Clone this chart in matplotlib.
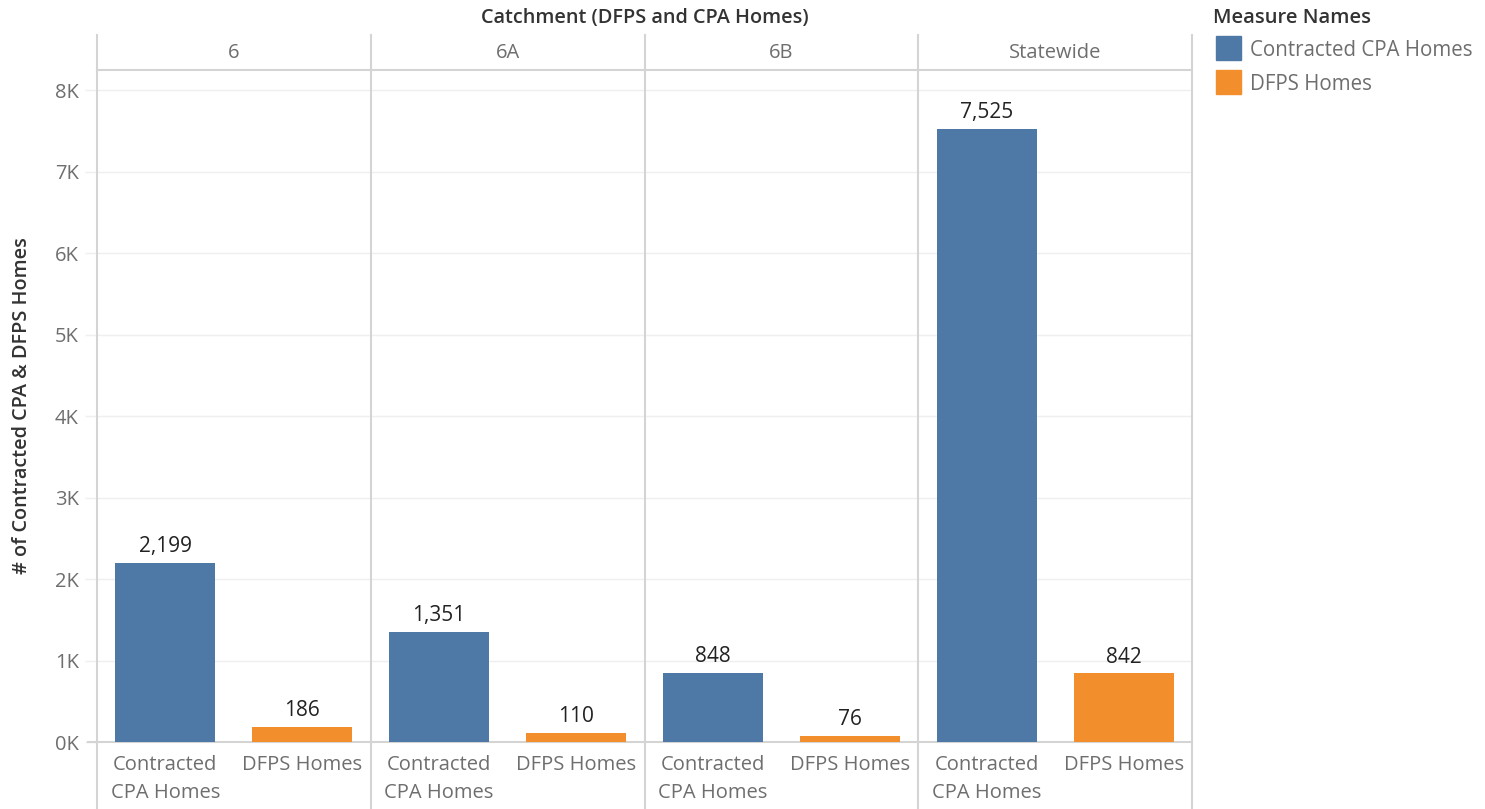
import matplotlib
matplotlib.use("Agg")
import matplotlib.pyplot as plt
from matplotlib.lines import Line2D
from matplotlib.patches import Rectangle

catchments = ["6", "6A", "6B", "Statewide"]
measures = ["Contracted CPA Homes", "DFPS Homes"]
measure_ticks = ["Contracted\nCPA Homes", "DFPS Homes"]
cpa_values = [2199, 1351, 848, 7525]
dfps_values = [186, 110, 76, 842]
y_ticks = [0, 1000, 2000, 3000, 4000, 5000, 6000, 7000, 8000]
y_tick_labels = ["0K", "1K", "2K", "3K", "4K", "5K", "6K", "7K", "8K"]

BLUE = "#4e79a7"
ORANGE = "#f28e2b"
BORDER = "#d4d4d4"
GRID = "#efefef"
TXT = "#6e6e6e"
DARK = "#333333"
VAL = "#222222"

plt.rcParams['font.family'] = ['Open Sans', 'DejaVu Sans']

W, H = 1485, 809
fig = plt.figure(figsize=(W / 100, H / 100), dpi=100)

L, R, T, B = 97, 1192, 70, 742
ax = fig.add_axes([L / W, 1 - B / H, (R - L) / W, (B - T) / H])

n = len(catchments)
xs_cpa = [2 * i for i in range(n)]
xs_dfps = [2 * i + 1 for i in range(n)]
bw = 0.73
ax.bar(xs_cpa, cpa_values, width=bw, color=BLUE, zorder=3)
ax.bar(xs_dfps, dfps_values, width=bw, color=ORANGE, zorder=3)

for x, v in list(zip(xs_cpa, cpa_values)) + list(zip(xs_dfps, dfps_values)):
    ax.annotate(f"{v:,}", (x, v), xytext=(0, 4), textcoords="offset points",
                ha="center", va="bottom", fontsize=15, color=VAL)

ax.set_xlim(-0.5, 2 * n - 0.5)
ax.set_ylim(0, 8250)
ax.set_yticks(y_ticks)
ax.set_yticklabels(y_tick_labels)
ax.set_xticks(xs_cpa + xs_dfps)
ax.set_xticklabels([measure_ticks[0]] * n + [measure_ticks[1]] * n)
for lab in ax.get_xticklabels():
    lab.set_va("top")
    lab.set_linespacing(1.55)
    lab.set_horizontalalignment("center")
ax.tick_params(axis="x", length=0, pad=9, labelsize=14.5, colors=TXT)
ax.tick_params(axis="y", length=9, width=1, color=GRID, pad=4, labelsize=14.5, colors=TXT)

ax.grid(axis="y", color=GRID, linewidth=1, zorder=0)
for s in ["left", "right"]:
    ax.spines[s].set_visible(False)
ax.spines["top"].set_color(BORDER)
ax.spines["bottom"].set_color(BORDER)
ax.spines["top"].set_linewidth(1.5)
ax.spines["bottom"].set_linewidth(1.5)

# panel separators extending from header to bottom
for i in range(n + 1):
    xpix = L + (R - L) * i / n
    fig.add_artist(Line2D([xpix / W, xpix / W], [1 - 35 / H, 0], color=BORDER, lw=1.5))
# bottom axis line extension to the left
fig.add_artist(Line2D([88 / W, L / W], [1 - B / H, 1 - B / H], color=BORDER, lw=1.5))

# header labels
for i, c in enumerate(catchments):
    xc = L + (R - L) * (i + 0.5) / n
    fig.text(xc / W, 1 - 53 / H, c, ha="center", va="center", fontsize=14.5, color=TXT)

fig.text(645 / W, 1 - 18 / H, "Catchment (DFPS and CPA Homes)", ha="center", va="center",
         fontsize=14.3, color=DARK, fontweight="semibold")

ax.set_ylabel("# of Contracted CPA & DFPS Homes", fontsize=14.3, color=DARK, fontweight="semibold")
ax.yaxis.set_label_coords((22 - L) / (R - L), 0.5)
ax.yaxis.label.set_va("center")

# legend
fig.text(1213 / W, 1 - 18 / H, "Measure Names", ha="left", va="center",
         fontsize=14.5, color=DARK, fontweight="semibold")
for k, (m, col) in enumerate(zip(measures, [BLUE, ORANGE])):
    y0 = 36 + 34 * k
    fig.add_artist(Rectangle((1216 / W, 1 - (y0 + 24) / H), 25 / W, 24 / H, color=col,
                             transform=fig.transFigure))
    fig.text(1250 / W, 1 - (y0 + 14) / H, m, ha="left", va="center", fontsize=14.8, color=TXT)

fig.savefig("out.png", dpi=100)
